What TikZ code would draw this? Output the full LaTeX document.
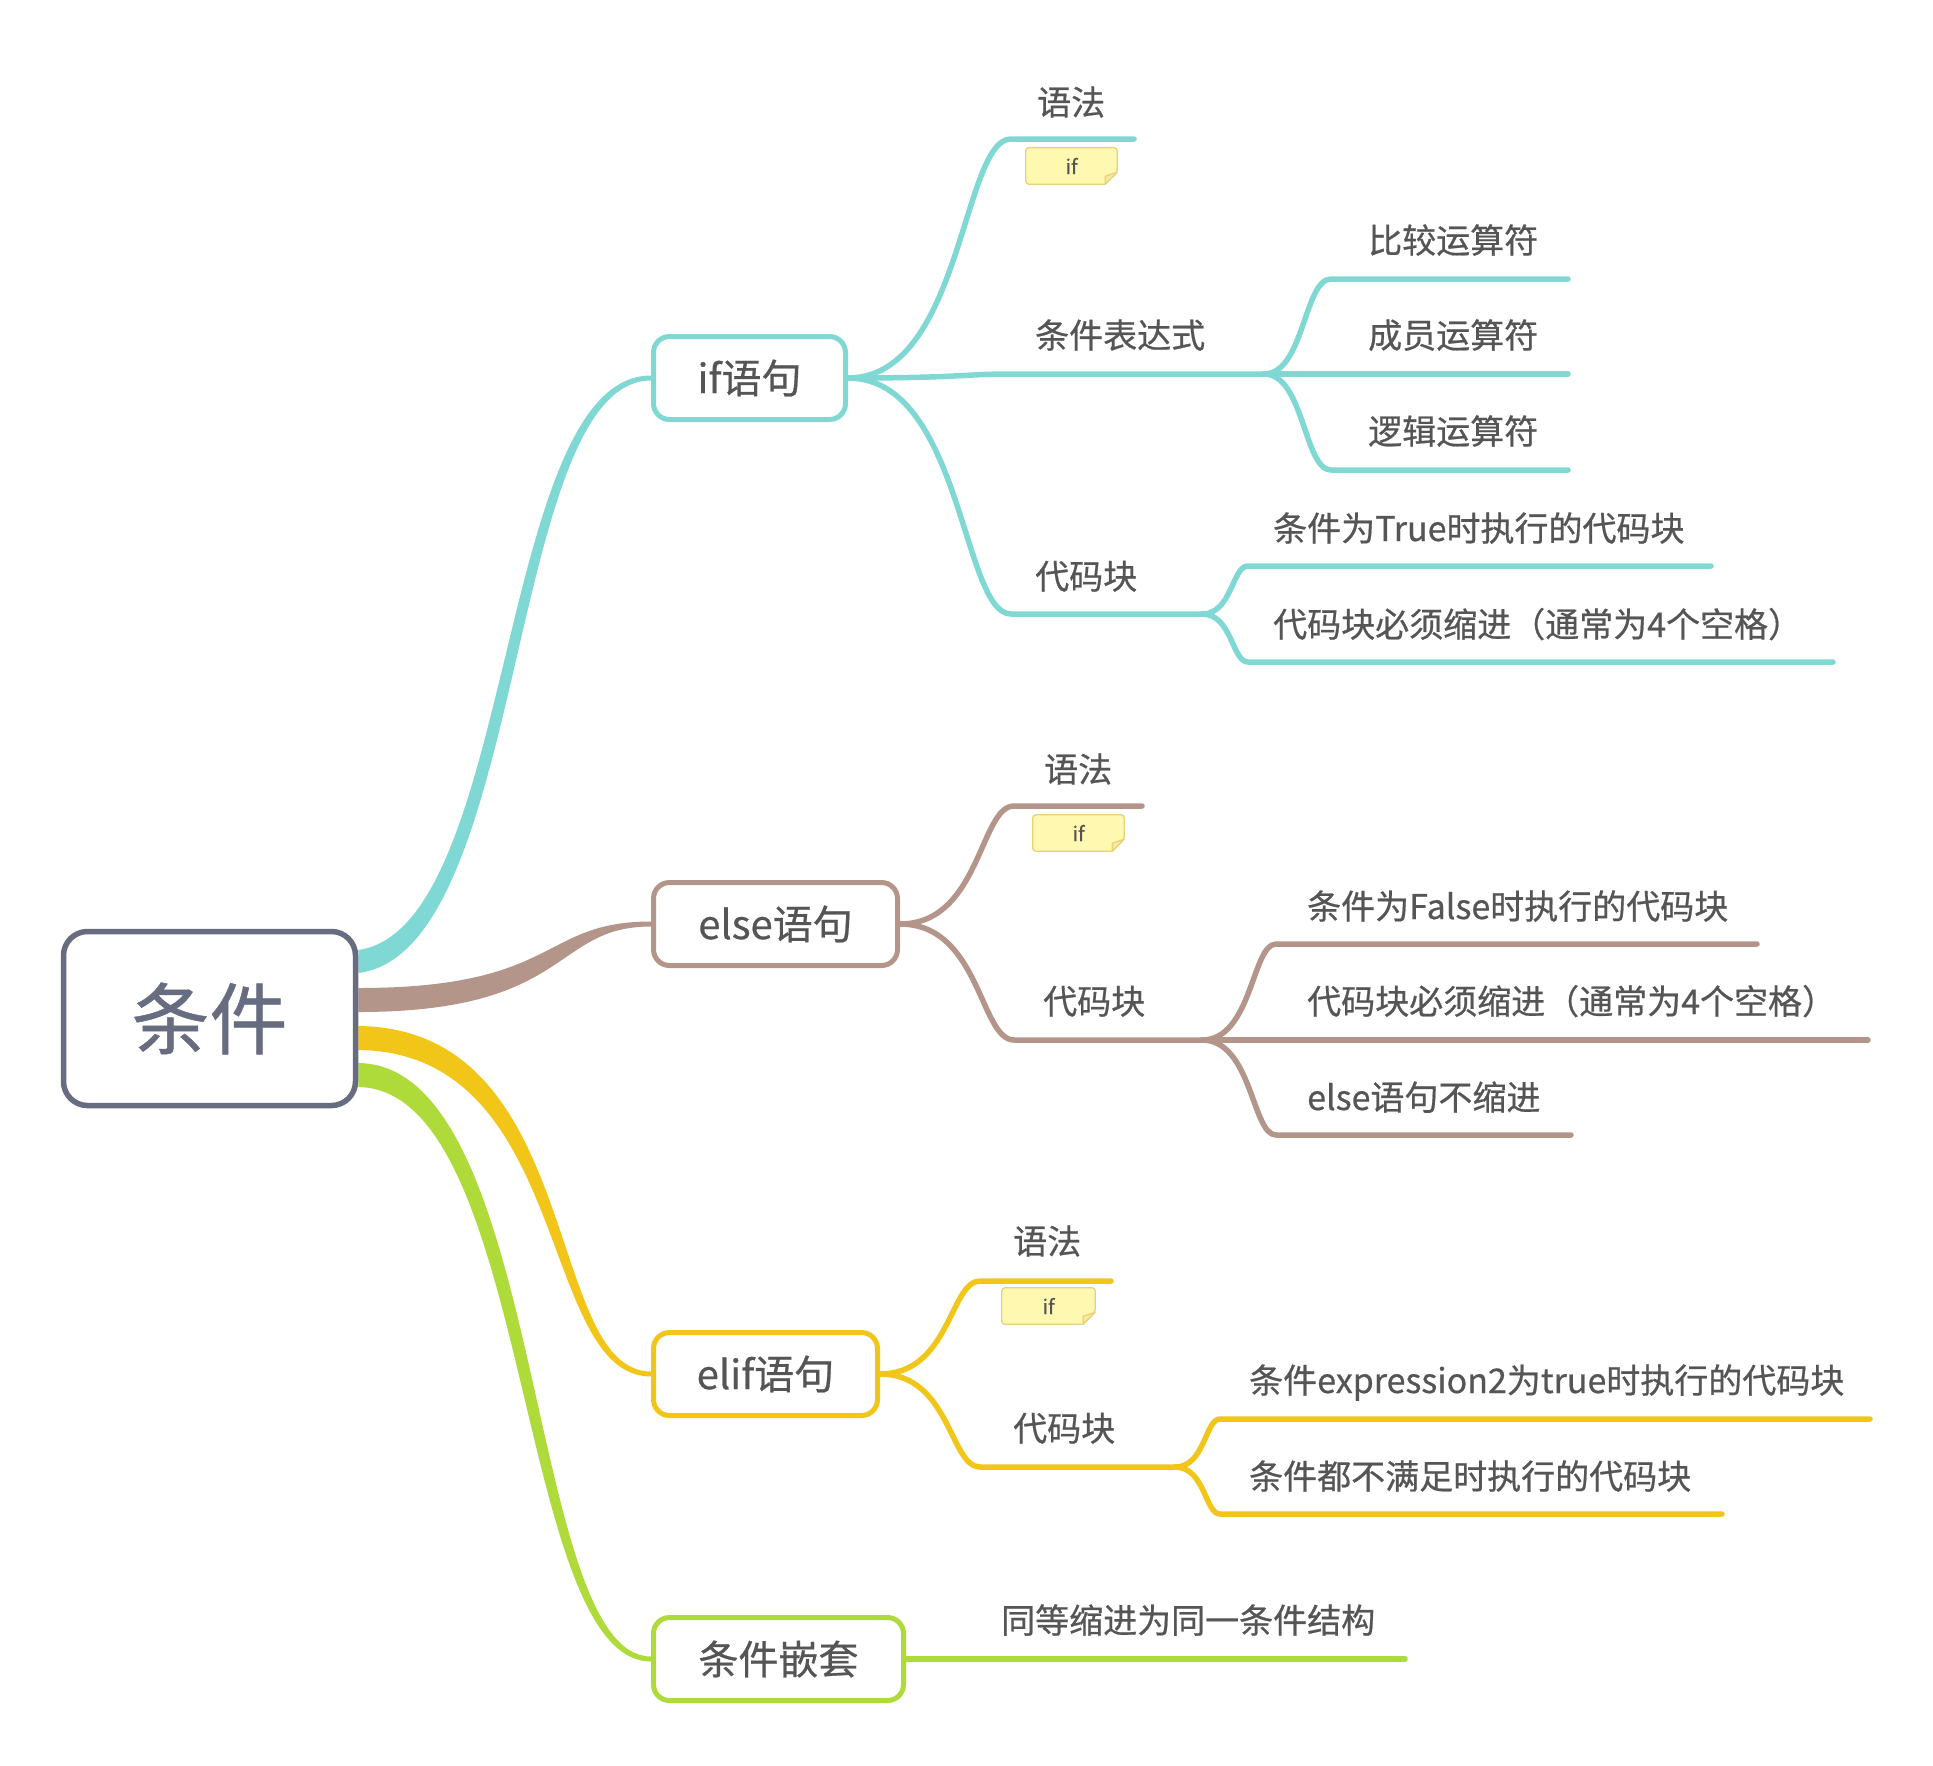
\documentclass[tikz,border=0pt]{standalone}
\usepackage{fontspec}
\setmainfont{Noto Sans CJK SC}[FakeBold=0.6]
\usetikzlibrary{calc,backgrounds}
\definecolor{cyanb}{HTML}{80D8D4}
\definecolor{brownb}{HTML}{B3958A}
\definecolor{yellowb}{HTML}{F2C618}
\definecolor{greenb}{HTML}{AEDA3A}
\definecolor{rootc}{HTML}{686C80}
\definecolor{txt}{HTML}{555555}
\definecolor{notefill}{HTML}{FFF8B0}
\definecolor{notedraw}{HTML}{E6D27A}
\definecolor{notefold}{HTML}{F7EC9A}
\begin{document}
\begin{tikzpicture}[x=1pt,y=-1pt,
  rootbox/.style={draw=rootc, line width=5.5pt, rounded corners=24pt, fill=white,
    minimum width=292pt, minimum height=174pt, text=rootc,
    font=\fontsize{78}{78}\selectfont, inner sep=0pt},
  topic/.style={draw=#1, line width=5pt, rounded corners=16pt, fill=white,
    minimum height=83pt, text=txt, font=\fontsize{40}{40}\selectfont, inner sep=0pt},
  lbl/.style={anchor=base west, text=txt, font=\fontsize{34}{34}\selectfont, inner sep=0pt},
  subline/.style={draw=#1, line width=5.5pt, line cap=round, line join=round},
  notetxt/.style={minimum height=36pt, inner sep=0pt, text=txt,
    font=\fontsize{20}{20}\selectfont},
  notebg/.style={draw=notedraw, fill=notefill, line width=1.3pt, line join=round},
  notefoldst/.style={draw=notedraw, fill=notefold, line width=1.3pt, line join=round},
]
\useasboundingbox (0,0) rectangle (1933,1765);

% ---------- main nodes ----------
\node[rootbox] (root) at (209.5,1018.5) {条件};
\node[topic=cyanb, minimum width=192pt] (ifb) at (749.5,378) {if语句};
\node[topic=brownb, minimum width=244pt] (elseb) at (775.5,924) {else语句};
\node[topic=yellowb, minimum width=224pt] (elifb) at (765.5,1374) {elif语句};
\node[topic=greenb, minimum width=250pt] (nestb) at (778.5,1659) {条件嵌套};

% ---------- labels ----------
\node[lbl] (ifsyn) at (1037,115) {语法};
\node[lbl] (ifexp) at (1035,348) {条件表达式};
\node[lbl] (ifcode) at (1035,589) {代码块};
\node[lbl] (cmp) at (1368,253) {比较运算符};
\node[lbl] (mem) at (1368,348) {成员运算符};
\node[lbl] (logi) at (1368,444) {逻辑运算符};
\node[lbl] (tru) at (1273,541) {条件为True时执行的代码块};
\node[lbl] (ind) at (1273,637) {代码块必须缩进（通常为4个空格）};

\node[lbl] (esyn) at (1044,782) {语法};
\node[lbl] (ecode) at (1043,1014) {代码块};
\node[lbl] (fals) at (1307,919) {条件为False时执行的代码块};
\node[lbl] (eind) at (1307,1014) {代码块必须缩进（通常为4个空格）};
\node[lbl] (eno) at (1307,1110) {else语句不缩进};

\node[lbl] (lsyn) at (1013,1254) {语法};
\node[lbl] (lcode) at (1013,1441) {代码块};
\node[lbl] (expr) at (1249,1393) {条件expression2为true时执行的代码块};
\node[lbl] (none) at (1249,1489) {条件都不满足时执行的代码块};

\node[lbl] (same) at (1001,1633) {同等缩进为同一条件结构};

% ---------- notes ----------
\node[notetxt, minimum width=91pt] (n1) at (1071.5,166) {if};
\node[notetxt, minimum width=91pt] (n2) at (1078.5,833) {if};
\node[notetxt, minimum width=93pt] (n3) at (1048.5,1306) {if};

% ---------- underline coordinates ----------
\coordinate (ifsynA) at (1011,139);  \coordinate (ifsynB) at (1134,139);
\coordinate (ifexpA) at (1011,374);  \coordinate (ifexpB) at (1264,374);
\coordinate (ifcodeA) at (1011,614); \coordinate (ifcodeB) at (1202,614);
\coordinate (cmpA) at (1331,279);    \coordinate (cmpB) at (1568,279);
\coordinate (memA) at (1331,374);    \coordinate (memB) at (1568,374);
\coordinate (logA) at (1331,470);    \coordinate (logB) at (1568,470);
\coordinate (truA) at (1248,566);    \coordinate (truB) at (1711,566);
\coordinate (indA) at (1248,662);    \coordinate (indB) at (1833,662);

\coordinate (esynA) at (1014,806);   \coordinate (esynB) at (1142,806);
\coordinate (ecodeA) at (1014,1040); \coordinate (ecodeB) at (1202,1040);
\coordinate (falsA) at (1276,944);   \coordinate (falsB) at (1757,944);
\coordinate (eindA) at (1276,1040);  \coordinate (eindB) at (1868,1040);
\coordinate (enoA) at (1276,1135);   \coordinate (enoB) at (1571,1135);

\coordinate (lsynA) at (980,1281);   \coordinate (lsynB) at (1111,1281);
\coordinate (lcodeA) at (980,1467);  \coordinate (lcodeB) at (1175,1467);
\coordinate (exprA) at (1220,1419);  \coordinate (exprB) at (1870,1419);
\coordinate (noneA) at (1220,1514);  \coordinate (noneB) at (1722,1514);

\coordinate (sameB) at (1405,1659);

\begin{pgfonlayer}{background}
\fill[white] (0,0) rectangle (1933,1765);
% ---------- tapered main branches ----------
\fill[cyanb] ($(root.east)+(0,-68.5)$) .. controls +(158,-22) and +(-155,0) .. ($(ifb.west)+(0,-2.5)$)
  -- ($(ifb.west)+(0,2.5)$) .. controls +(-145,0) and +(170,-21) .. ($(root.east)+(0,-45.5)$) -- cycle;
\fill[brownb] ($(root.east)+(0,-30.5)$) .. controls +(202,0) and +(-111,0) .. ($(elseb.west)+(0,-2.5)$)
  -- ($(elseb.west)+(0,2.5)$) .. controls +(-99,0) and +(214,0) .. ($(root.east)+(0,-6.5)$) -- cycle;
\fill[yellowb] ($(root.east)+(0,7.5)$) .. controls +(226,2) and +(-107,0) .. ($(elifb.west)+(0,-2.5)$)
  -- ($(elifb.west)+(0,2.5)$) .. controls +(-113,0) and +(214,2) .. ($(root.east)+(0,31.5)$) -- cycle;
\fill[greenb] ($(root.east)+(0,44.5)$) .. controls +(188,2) and +(-126,0) .. ($(nestb.west)+(0,-2.5)$)
  -- ($(nestb.west)+(0,2.5)$) .. controls +(-136,0) and +(174,2) .. ($(root.east)+(0,68.5)$) -- cycle;

% ---------- if branch ----------
\draw[subline=cyanb] (ifb.east) .. controls +(114,0) and +(-49,0) .. (ifsynA) -- (ifsynB);
\draw[subline=cyanb] (ifb.east) .. controls +(114,0) and +(-49,0) .. (ifexpA) -- (ifexpB);
\draw[subline=cyanb] (ifb.east) .. controls +(114,0) and +(-49,0) .. (ifcodeA) -- (ifcodeB);
\draw[subline=cyanb] (ifexpB) .. controls +(40,0) and +(-27,0) .. (cmpA) -- (cmpB);
\draw[subline=cyanb] (ifexpB) .. controls +(40,0) and +(-27,0) .. (memA) -- (memB);
\draw[subline=cyanb] (ifexpB) .. controls +(40,0) and +(-27,0) .. (logA) -- (logB);
\draw[subline=cyanb] (ifcodeB) .. controls +(30,0) and +(-16,0) .. (truA) -- (truB);
\draw[subline=cyanb] (ifcodeB) .. controls +(30,0) and +(-16,0) .. (indA) -- (indB);

% ---------- else branch ----------
\draw[subline=brownb] (elseb.east) .. controls +(80,0) and +(-34,0) .. (esynA) -- (esynB);
\draw[subline=brownb] (elseb.east) .. controls +(80,0) and +(-34,0) .. (ecodeA) -- (ecodeB);
\draw[subline=brownb] (ecodeB) .. controls +(50,0) and +(-24,0) .. (falsA) -- (falsB);
\draw[subline=brownb] (ecodeB) .. controls +(50,0) and +(-24,0) .. (eindA) -- (eindB);
\draw[subline=brownb] (ecodeB) .. controls +(50,0) and +(-24,0) .. (enoA) -- (enoB);

% ---------- elif branch ----------
\draw[subline=yellowb] (elifb.east) .. controls +(70,0) and +(-30,0) .. (lsynA) -- (lsynB);
\draw[subline=yellowb] (elifb.east) .. controls +(70,0) and +(-30,0) .. (lcodeA) -- (lcodeB);
\draw[subline=yellowb] (lcodeB) .. controls +(30,0) and +(-15,0) .. (exprA) -- (exprB);
\draw[subline=yellowb] (lcodeB) .. controls +(30,0) and +(-15,0) .. (noneA) -- (noneB);

% ---------- nested ----------
\draw[subline=greenb] (nestb.east) -- (sameB);

% ---------- note shapes ----------
\foreach \nn in {n1,n2,n3}{
  \path[notebg, rounded corners=3pt] (\nn.north west) -- (\nn.north east)
    -- ($(\nn.south east)+(0,-12)$) [sharp corners] -- ($(\nn.south east)+(-12,0)$)
    [rounded corners=3pt] -- (\nn.south west) -- cycle;
  \path[notefoldst] ($(\nn.south east)+(-12,0)$) -- ($(\nn.south east)+(-12,-8)$)
    -- ($(\nn.south east)+(0,-12)$) -- cycle;
}
\end{pgfonlayer}
\end{tikzpicture}
\end{document}
